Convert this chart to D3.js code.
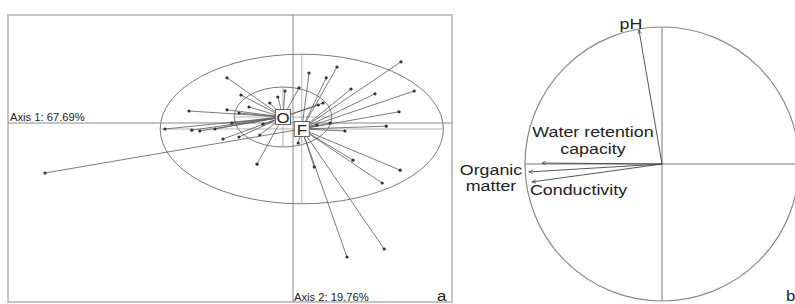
<!DOCTYPE html>
<html>
<head>
<meta charset="utf-8">
<script src="https://cdn.jsdelivr.net/npm/d3@7"></script>
<style>
  body { margin: 0; background: #fff; }
  text { font-family: "Liberation Sans", Arial, sans-serif; fill: #222; }
</style>
</head>
<body>
<div id="chart"></div>
<script>
  var width = 795, height = 304;

  // panel a : sites on axes 1-2, grouped by class (O, F)
  var classes = ["O", "F"];
  var classCenters = [[-0.25, 0.15], [0.22, -0.15]];
  var ellipseRadii = [[1.22, 0.75], [3.54, 1.87]];
  var axisLabels = ["Axis 1: 67.69%", "Axis 2: 19.76%"];

  var pointsO = [
    [-1.65, 1.13], [-1.30, 0.70], [-2.60, 0.30], [-1.65, 0.33], [-1.35, 0.25],
    [-1.53, 0.00], [-1.10, 0.40], [-0.38, 0.65], [-0.20, 0.80], [-1.75, -0.40],
    [-1.35, -0.35], [-0.83, -0.30], [-0.90, -1.03], [-2.33, -0.20], [-2.53, -0.18],
    [-3.20, -0.15], [-0.58, 0.50], [-0.75, -0.03], [0.63, 0.45], [0.75, 0.50],
    [0.15, 0.88], [-1.95, -0.15]
  ];
  var pointsF = [
    [2.70, 1.53], [3.03, 0.80], [2.65, 0.28], [2.33, -0.08], [2.05, 0.73],
    [1.45, 0.85], [1.10, 1.40], [0.83, 1.13], [0.40, 1.25], [1.30, -0.20],
    [2.68, -1.18], [2.23, -1.50], [1.50, -0.93], [2.28, -3.15], [1.35, -3.35],
    [0.53, -1.10], [-6.20, -1.25], [0.13, -0.50], [0.60, -0.05], [0.93, 0.00]
  ];

  // panel b : correlation circle
  var variables = ["pH", "Water retention capacity", "Organic matter", "Conductivity"];
  var varX = [-0.168, -0.876, -0.971, -0.949];
  var varY = [0.978, 0.007, -0.058, -0.131];

  var stretch = 1.12;

  var svg = d3.select("#chart")
    .append("svg")
      .attr("width", width)
      .attr("height", height);

  svg.append("rect").attr("width", width).attr("height", height).attr("fill", "#fff");

  function label(g, x, y, str, size, anchor, sx) {
    return g.append("text")
      .attr("transform", "translate(" + x + "," + y + ") scale(" + (sx || stretch) + ",1)")
      .attr("text-anchor", anchor || "start")
      .style("font-size", size + "px")
      .text(str);
  }

  // ---------- panel a ----------
  var x = d3.scaleLinear().domain([-7.125, 3.975]).range([8, 452]);
  var y = d3.scaleLinear().domain([-4.475, 2.7]).range([302, 15]);

  var a = svg.append("g");

  a.append("rect")
    .attr("x", x(-7.125)).attr("y", y(2.7))
    .attr("width", x(3.975) - x(-7.125)).attr("height", y(-4.475) - y(2.7))
    .attr("fill", "none").attr("stroke", "#c4c4c4").attr("stroke-width", 2);

  a.append("line")
    .attr("x1", x(-7.125)).attr("x2", x(3.975)).attr("y1", y(0)).attr("y2", y(0))
    .attr("stroke", "#8a8a8a");
  a.append("line")
    .attr("x1", x(0)).attr("x2", x(0)).attr("y1", y(2.7)).attr("y2", y(-4.475))
    .attr("stroke", "#8a8a8a");

  // ellipses with their axes
  classes.forEach(function(c, i) {
    var cx = classCenters[i][0], cy = classCenters[i][1];
    var rx = ellipseRadii[i][0], ry = ellipseRadii[i][1];
    a.append("ellipse")
      .attr("cx", x(cx)).attr("cy", y(cy))
      .attr("rx", x(cx + rx) - x(cx)).attr("ry", y(cy) - y(cy + ry))
      .attr("fill", "none").attr("stroke", "#7a7a7a").attr("stroke-width", 1);
    a.append("line")
      .attr("x1", x(cx - rx)).attr("x2", x(cx + rx)).attr("y1", y(cy)).attr("y2", y(cy))
      .attr("stroke", "#a0a0a0").attr("stroke-width", 0.8);
    a.append("line")
      .attr("x1", x(cx)).attr("x2", x(cx)).attr("y1", y(cy + ry)).attr("y2", y(cy - ry))
      .attr("stroke", "#a0a0a0").attr("stroke-width", 0.8);
  });

  // stars
  [pointsO, pointsF].forEach(function(pts, i) {
    var c = classCenters[i];
    a.selectAll(".star" + i)
      .data(pts)
    .enter().append("line")
      .attr("x1", function(d) { return x(d[0]); })
      .attr("y1", function(d) { return y(d[1]); })
      .attr("x2", x(c[0])).attr("y2", y(c[1]))
      .attr("stroke", "#5a5a5a").attr("stroke-width", 0.8);
    a.selectAll(".pt" + i)
      .data(pts)
    .enter().append("circle")
      .attr("cx", function(d) { return x(d[0]); })
      .attr("cy", function(d) { return y(d[1]); })
      .attr("r", 1.6)
      .attr("fill", "#333");
  });

  // class labels
  classes.forEach(function(c, i) {
    var px = x(classCenters[i][0]), py = y(classCenters[i][1]);
    a.append("rect")
      .attr("x", px - 7.5).attr("y", py - 7.5).attr("width", 15).attr("height", 15)
      .attr("fill", "#fff").attr("stroke", "#666").attr("stroke-width", 1);
    label(a, px, py + 5.5, c, 15, "middle");
  });

  label(a, 10, y(0) - 2, axisLabels[0], 10);
  label(a, x(0) + 1, 301, axisLabels[1], 10);
  label(a, 437, 301, "a", 15);

  // ---------- panel b ----------
  var bx = d3.scaleLinear().domain([-1, 1]).range([525, 799]);
  var by = d3.scaleLinear().domain([-1, 1]).range([301, 27]);

  var b = svg.append("g");

  b.append("circle")
    .attr("cx", bx(0)).attr("cy", by(0)).attr("r", bx(1) - bx(0))
    .attr("fill", "none").attr("stroke", "#8a8a8a").attr("stroke-width", 1.2);
  b.append("line")
    .attr("x1", bx(-1)).attr("x2", bx(1)).attr("y1", by(0)).attr("y2", by(0))
    .attr("stroke", "#777");
  b.append("line")
    .attr("x1", bx(0)).attr("x2", bx(0)).attr("y1", by(1)).attr("y2", by(-1))
    .attr("stroke", "#777");

  svg.append("defs").append("marker")
    .attr("id", "head")
    .attr("viewBox", "0 0 10 10")
    .attr("refX", 9).attr("refY", 5)
    .attr("markerWidth", 5).attr("markerHeight", 5)
    .attr("orient", "auto")
  .append("path")
    .attr("d", "M0,1 L10,5 L0,9")
    .attr("fill", "none").attr("stroke", "#444").attr("stroke-width", 1.5);

  var labelPlace = {
    "pH": { dx: -8, dy: -1, anchor: "middle", lines: ["pH"] },
    "Water retention capacity": { dx: 51, dy: -26, anchor: "middle", lines: ["Water retention", "capacity"] },
    "Organic matter": { dx: -38, dy: 3, anchor: "middle", lines: ["Organic", "matter"] },
    "Conductivity": { dx: -2, dy: 13, anchor: "start", lines: ["Conductivity"] }
  };

  variables.forEach(function(v, i) {
    var tx = bx(varX[i]), ty = by(varY[i]);
    b.append("line")
      .attr("x1", bx(0)).attr("y1", by(0)).attr("x2", tx).attr("y2", ty)
      .attr("stroke", "#444").attr("stroke-width", 0.9)
      .attr("marker-end", "url(#head)");
    var p = labelPlace[v];
    p.lines.forEach(function(t, j) {
      label(b, tx + p.dx, ty + p.dy + j * 16.5, t, 15, p.anchor, 1.19);
    });
  });

  label(b, 786, 301, "b", 15);
</script>
</body>
</html>
